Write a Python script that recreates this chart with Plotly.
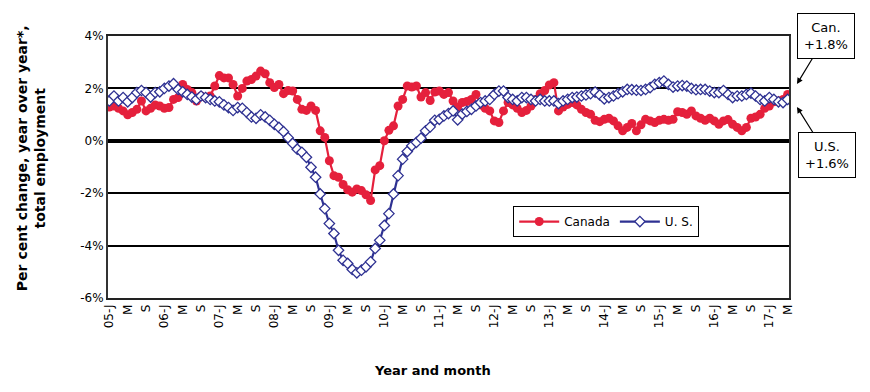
import plotly.graph_objects as go

# ---- data ----
months = [f"{y}-{m:02d}" for y in range(2005, 2018) for m in range(1, 13)][:149]

canada = [
    1.29, 1.33, 1.24, 1.14, 0.99, 1.08, 1.2, 1.52, 1.14, 1.24,
    1.37, 1.33, 1.24, 1.27, 1.58, 1.65, 2.15, 1.96, 1.84, 1.52,
    1.71, 1.65, 1.71, 2.09, 2.49, 2.4, 2.4, 2.15, 1.71, 2.0,
    2.28, 2.34, 2.47, 2.66, 2.56, 2.22, 2.03, 2.15, 1.8, 1.92,
    1.9, 1.58, 1.2, 1.16, 1.33, 1.16, 0.38, 0.13, -0.76, -1.33,
    -1.39, -1.67, -1.87, -1.96, -1.84, -1.9, -2.06, -2.28, -1.11, -0.95,
    0.0, 0.4, 0.57, 1.33, 1.58, 2.09, 2.05, 2.09, 1.67, 1.84,
    1.54, 1.86, 1.9, 1.77, 1.84, 1.52, 1.29, 1.46, 1.5, 1.58,
    1.77, 1.37, 1.24, 1.14, 0.76, 0.7, 1.14, 1.46, 1.37, 1.24,
    1.08, 1.16, 1.33, 1.58, 1.8, 1.92, 2.13, 2.22, 1.14, 1.29,
    1.39, 1.46, 1.37, 1.2, 1.08, 1.01, 0.78, 0.73, 0.82, 0.86,
    0.76, 0.57, 0.38, 0.51, 0.66, 0.38, 0.61, 0.82, 0.76, 0.7,
    0.78, 0.82, 0.78, 0.82, 1.11, 1.08, 1.01, 1.14, 0.95, 0.86,
    0.78, 0.86, 0.76, 0.63, 0.76, 0.81, 0.63, 0.51, 0.38, 0.51,
    0.86, 0.91, 1.01, 1.24, 1.33, 1.49, 1.52, 1.58, 1.77,
]

us = [
    1.52, 1.71, 1.52, 1.65, 1.49, 1.65, 1.84, 1.92, 1.84, 1.67,
    1.84, 1.87, 2.0, 2.09, 2.18, 1.96, 1.87, 1.77, 1.67, 1.58,
    1.71, 1.65, 1.58, 1.52, 1.49, 1.37, 1.27, 1.16, 1.27, 1.24,
    1.08, 0.91, 0.86, 0.99, 0.91, 0.78, 0.63, 0.51, 0.35, 0.12,
    -0.1, -0.32, -0.44, -0.63, -1.01, -1.39, -2.03, -2.59, -3.16, -3.54,
    -4.18, -4.56, -4.68, -4.91, -5.04, -4.94, -4.81, -4.62, -4.11, -3.8,
    -3.23, -2.78, -2.03, -1.33, -0.7, -0.41, -0.19, -0.06, 0.1, 0.38,
    0.53, 0.78, 0.82, 0.95, 1.04, 1.14, 0.8, 1.02, 1.12, 1.2,
    1.33, 1.46, 1.52, 1.58, 1.77, 1.9, 1.9, 1.65, 1.58, 1.52,
    1.65, 1.65, 1.58, 1.52, 1.58, 1.52, 1.52, 1.52, 1.42, 1.52,
    1.58, 1.65, 1.67, 1.71, 1.75, 1.8, 1.86, 1.75, 1.6, 1.65,
    1.71, 1.8, 1.87, 1.96, 1.95, 1.93, 1.92, 1.96, 2.03, 2.15,
    2.22, 2.28, 2.15, 2.05, 2.09, 2.11, 2.09, 2.0, 1.95, 1.96,
    1.96, 1.9, 1.84, 1.84, 1.92, 1.77, 1.65, 1.71, 1.71, 1.77,
    1.82, 1.71, 1.58, 1.52, 1.65, 1.58, 1.49, 1.46, 1.58,
]

month_letters = {1: "J", 5: "M", 9: "S"}
tick_vals = [m for m in months if int(m[5:]) in month_letters]
tick_text = [
    (m[2:4] + "-J") if int(m[5:]) == 1 else month_letters[int(m[5:])]
    for m in tick_vals
]
y_ticks = [-6, -4, -2, 0, 2, 4]

RED = "#E5203C"
BLUE = "#2E3192"
FONT = "DejaVu Sans"

fig = go.Figure()
fig.add_trace(go.Scatter(
    x=months, y=canada, name="Canada", mode="lines+markers",
    line=dict(color=RED, width=2.2),
    marker=dict(symbol="circle", size=9, color=RED),
))
fig.add_trace(go.Scatter(
    x=months, y=us, name="U. S.", mode="lines+markers",
    line=dict(color=BLUE, width=2.2),
    marker=dict(symbol="diamond", size=8, color="white",
                line=dict(color=BLUE, width=1.3)),
))

# page body has an 8px margin, so the figure is offset by (8, 8)
fig.update_layout(
    width=862, height=384,
    margin=dict(l=100, r=81, t=28, b=94),
    paper_bgcolor="white", plot_bgcolor="white",
    font=dict(family=FONT, color="black", size=12),
    showlegend=True,
    legend=dict(
        x=0.595, y=0.351, xanchor="left", yanchor="top",
        orientation="h", bordercolor="black", borderwidth=1,
        bgcolor="white", font=dict(size=12, family=FONT),
        itemwidth=40,
    ),
    xaxis=dict(
        type="category", range=[-0.3, len(months) - 0.7],
        tickmode="array", tickvals=tick_vals, ticktext=tick_text,
        tickangle=-90, tickfont=dict(size=12),
        showgrid=False, showline=True, linecolor="#222", linewidth=1.5,
        mirror=True, ticks="",
    ),
    yaxis=dict(
        range=[-6, 4], tickmode="array", tickvals=y_ticks,
        ticktext=[f"{v}%" for v in y_ticks], tickfont=dict(size=12),
        showgrid=True, gridcolor="black", gridwidth=1.5,
        zeroline=True, zerolinecolor="black", zerolinewidth=4,
        showline=True, linecolor="#333", linewidth=2, mirror=True,
        ticks="",
    ),
)

fig.add_annotation(
    xref="paper", yref="paper", x=-0.113, y=0.534, textangle=-90,
    xanchor="center", yanchor="middle",
    text="<b>Per cent change, year over year*,<br>total employment</b>",
    showarrow=False, font=dict(size=14, family=FONT),
)
fig.add_annotation(
    xref="paper", yref="paper", x=0.477, y=-0.275,
    xanchor="center", yanchor="middle",
    text="<b>Year and month</b>", showarrow=False,
    font=dict(size=13, family=FONT),
)
fig.add_annotation(
    xref="paper", yref="paper", x=1.0117, y=0.8168,
    ax=29, ay=-48, text="Can.<br>+" + f"{canada[-1]:.1f}%",
    showarrow=True, arrowhead=2, arrowsize=1, arrowwidth=1.2,
    arrowcolor="black", bordercolor="black", borderwidth=1,
    borderpad=6, bgcolor="white", font=dict(size=13, family=FONT),
)
fig.add_annotation(
    xref="paper", yref="paper", x=1.0117, y=0.729,
    ax=30, ay=48, text="U.S.<br>+" + f"{us[-1]:.1f}%",
    showarrow=True, arrowhead=2, arrowsize=1, arrowwidth=1.2,
    arrowcolor="black", bordercolor="black", borderwidth=1,
    borderpad=6, bgcolor="white", font=dict(size=13, family=FONT),
)

fig.write_html("out.html")
